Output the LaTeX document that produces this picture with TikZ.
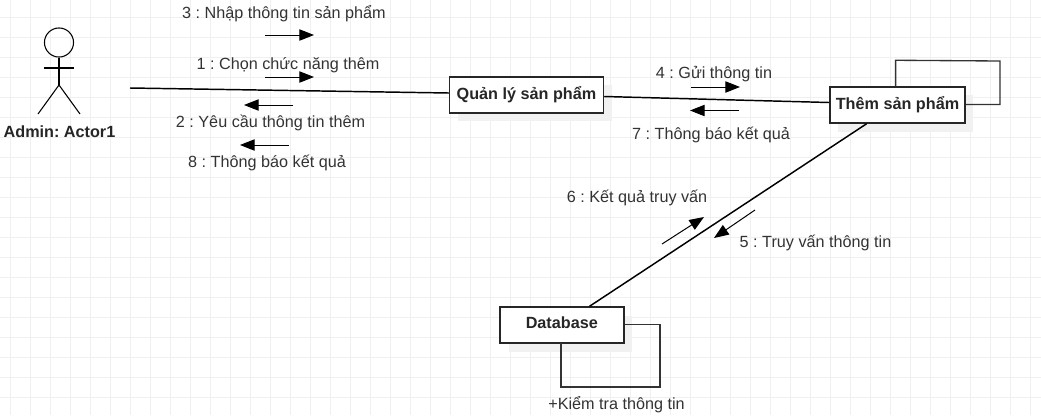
\documentclass[tikz,border=0pt]{standalone}
\usepackage{fontspec}
\setmainfont{Liberation Sans}
\usetikzlibrary{arrows.meta}
\definecolor{gridc}{HTML}{F0F0F0}
\definecolor{shadowc}{HTML}{F1F1F1}
\definecolor{txt}{HTML}{333333}
\tikzset{
  x=0.75pt,y=-0.75pt,
  objbox/.style={draw=black!85,line width=1.1pt,fill=white,minimum height=27pt,inner sep=0pt,font=\bfseries\fontsize{12.15}{14}\selectfont,text=black!85},
  msg/.style={font=\fontsize{12.15}{14}\selectfont,text=txt,inner sep=0pt},
  bold label/.style={font=\bfseries\fontsize{12.15}{14}\selectfont,text=black!85,inner sep=0pt},
  link/.style={draw=black,line width=1.1pt},
  loopline/.style={draw=black!80,line width=1pt},
  flow/.style={draw=black,line width=0.75pt,-{Triangle[length=11pt,width=8.5pt]}},
  actorline/.style={draw=black,line width=0.8pt},
  shade box/.style={fill=shadowc,draw=none},
}
\begin{document}
\frenchspacing
\begin{tikzpicture}
\useasboundingbox (0,0) rectangle (1041,415);
\fill[white] (0,0) rectangle (1041,415);
\foreach \i in {0,...,51} {\draw[gridc,line width=0.7pt] (10+20*\i,0) -- (10+20*\i,415);}
\foreach \j in {0,...,19} {\draw[gridc,line width=0.7pt] (0,17.5+20*\j) -- (1041,17.5+20*\j);}
% shadows
\fill[shade box] (458,85) rectangle (612,121);
\fill[shade box] (838,95) rectangle (973,132);
\fill[shade box] (509,316) rectangle (632,352);
% actor
\node[draw=black,line width=0.8pt,circle,minimum size=21.8pt,inner sep=0pt] (head) at (59,42.5) {};
\coordinate (hip) at (59,85);
\coordinate (armL) at (44,68);
\coordinate (armR) at (74,68);
\coordinate (legL) at (38,114);
\coordinate (legR) at (80,114);
\draw[actorline] (head.south) -- (hip);
\draw[actorline] (armL) -- (armR);
\draw[actorline] (legL) -- (hip) -- (legR);
\node[bold label] (actor) at (59.5,131.5) {Admin: Actor1};
% free end
\coordinate (free) at (130,88);
% objects
\node[objbox,minimum width=115.5pt] (ql) at (526.5,95) {\raisebox{1.5pt}{Quản lý sản phẩm}};
\node[objbox,minimum width=101.5pt] (them) at (897.5,105) {\raisebox{1.5pt}{Thêm sản phẩm}};
\node[objbox,minimum width=93pt] (db) at (561.8,325) {\raisebox{3.5pt}{Database}};
\draw[link] (free) -- (ql.west |- 0,93);
\draw[link] (ql.east |- 0,96.5) -- (them.west |- 0,102.5);
\draw[link] (them.south west) ++(37.5,0) coordinate (a) (db.north west) ++(90.5,0) coordinate (b) (a) -- (b);
% self loops
\draw[loopline] (them.north west) ++(66.5,0) coordinate (l1) -- ++(0,-26) -- (1000,61) -- (1000,104.5) -- (them.east |- 0,104.5);
\draw[loopline] (db.east |- 0,324.5) -- (660,324.5) -- (660,387) -- (561,387) -- (561,343.4);
% message arrows
\coordinate (m3a) at (265,35); \coordinate (m3b) at (314,35);
\coordinate (m1a) at (265,77); \coordinate (m1b) at (314,77);
\coordinate (m2a) at (293,105); \coordinate (m2b) at (244,105);
\coordinate (m8a) at (289,145); \coordinate (m8b) at (240,145);
\coordinate (m4a) at (691,87); \coordinate (m4b) at (740,87);
\coordinate (m7a) at (739,110.5); \coordinate (m7b) at (690,110.5);
\coordinate (m6a) at (662,244); \coordinate (m6b) at (704,217);
\coordinate (m5a) at (755,210); \coordinate (m5b) at (714,238);
\foreach \m in {3,1,2,8,4,7,6,5} {\draw[flow] (m\m a) -- (m\m b);}
% labels
\node[msg] (t3) at (284,13.3) {3 : Nhập thông tin sản phẩm};
\node[msg] (t1) at (288,64.8) {1 : Chọn chức năng thêm};
\node[msg] (t2) at (270.5,122.8) {2 : Yêu cầu thông tin thêm};
\node[msg] (t8) at (267,162.8) {8 : Thông báo kết quả};
\node[msg] (t4) at (714,73.8) {4 : Gửi thông tin};
\node[msg] (t7) at (711,134.8) {7 : Thông báo kết quả};
\node[msg] (t6) at (637,198.3) {6 : Kết quả truy vấn};
\node[msg] (t5) at (815.5,242.8) {5 : Truy vấn thông tin};
\node[msg] (t9) at (616.5,404.8) {+Kiểm tra thông tin};
\end{tikzpicture}
\end{document}
